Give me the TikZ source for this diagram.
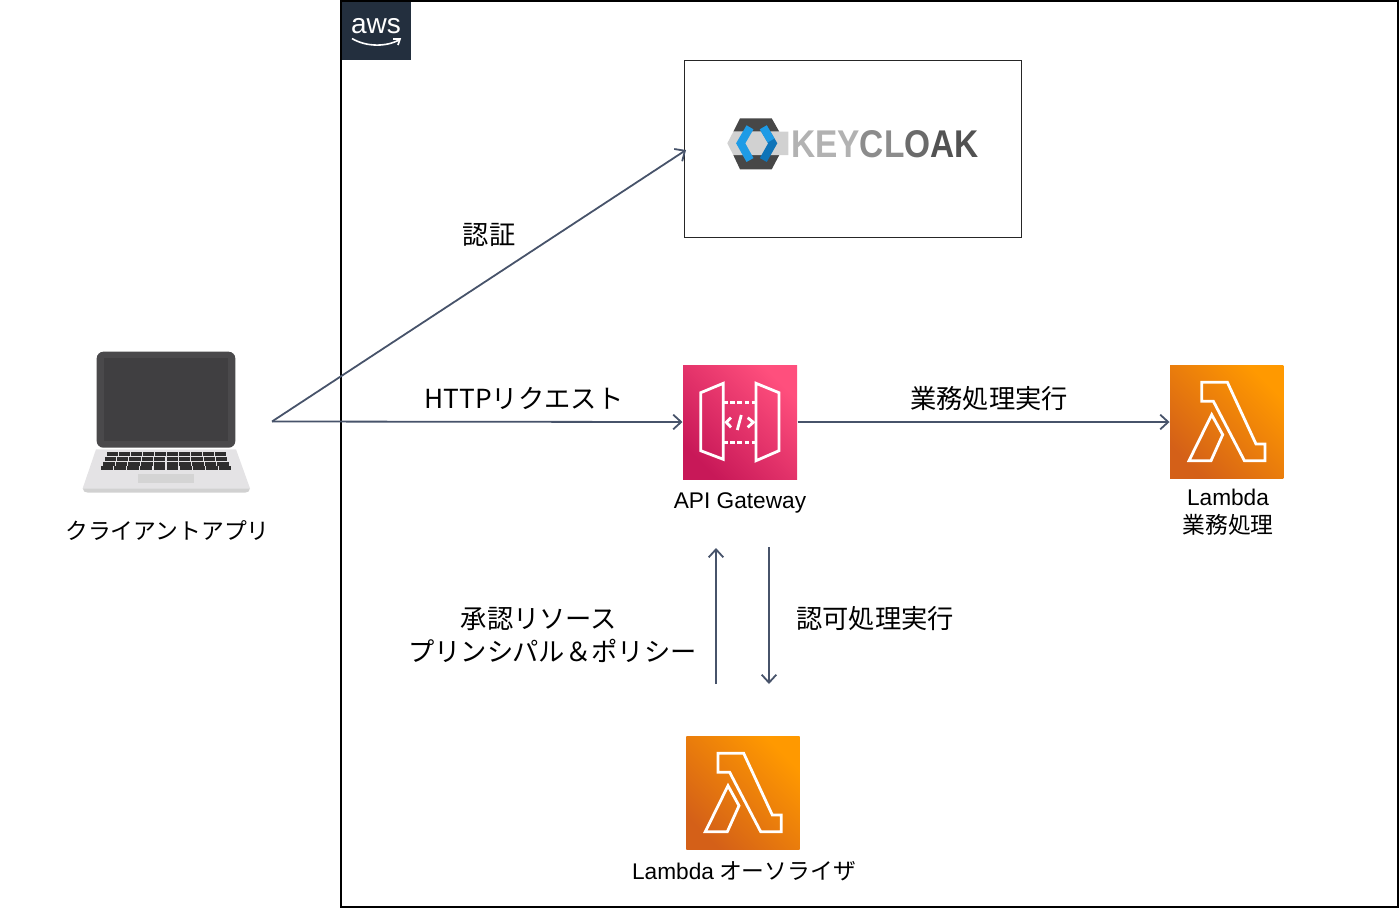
\documentclass[tikz,border=0pt]{standalone}
\usepackage{fontspec}
\setmainfont{Liberation Sans}
\newfontfamily\cjk{Noto Sans CJK JP}
\usetikzlibrary{arrows.meta}
\definecolor{arrowgray}{HTML}{47536A}
\definecolor{awsnavy}{HTML}{232F3E}
\definecolor{lapdark}{HTML}{4A494B}
\definecolor{lapinner}{HTML}{403F41}
\definecolor{lapbase}{HTML}{E4E3E5}
\definecolor{kcblue}{HTML}{1E9BE6}
\definecolor{kcdeep}{HTML}{0F74B8}
\tikzset{every picture/.style={line width=0.75pt}}
\tikzset{
	connector/.style={draw=arrowgray,line width=1.35pt,-{Straight Barb[length=6pt,width=11pt]}},
	biglabel/.style={font=\cjk\fontsize{19.7}{24}\selectfont,inner sep=0pt},
	smalllabel/.style={font=\cjk\fontsize{17.1}{21}\selectfont,inner sep=0pt},
	latinlabel/.style={font=\fontsize{17}{21}\selectfont,inner sep=0pt},
	orangetile/.style={minimum size=85pt,inner sep=0pt,shade,top color={rgb,255:red,255;green,153;blue,0},bottom color={rgb,255:red,212;green,96;blue,24},shading angle=-45},
	pinktile/.style={minimum size=85.5pt,inner sep=0pt,shade,top color={rgb,255:red,255;green,79;blue,125},bottom color={rgb,255:red,200;green,24;blue,88},shading angle=-45},
	iconline/.style={draw=white,line width=2.1pt,line join=miter},
	lambdaicon/.pic={
		\draw [iconline] (-25,-39.7) -- (0.7,-39.7) -- (29.3,22) -- (38.3,22) -- (38.3,38.7) -- (17.7,38.7) -- (-13.3,-20.7) -- (-25,-20.7) -- cycle ;
		\draw [iconline] (-15,-7.3) -- (-4,12.7) -- (-15.7,38.7) -- (-37.7,38.7) -- cycle ;
	}
}

\begin{document}
\begin{tikzpicture}[x=0.75pt,y=0.75pt,yscale=-1,xscale=1]
	\useasboundingbox (0,0) rectangle (1400,908);

	%Shape: AWS frame
	\draw [line width=1.5pt] (341,1) -- (1398,1) -- (1398,907) -- (341,907) -- cycle ;
	%Shape: AWS tag
	\fill [awsnavy] (342,2) -- (411,2) -- (411,60) -- (342,60) -- cycle ;
	\draw (376,26.5) node [font=\fontsize{21}{21}\selectfont,text=white,inner sep=0pt] (awstext) {aws};
	\draw [white,line width=1.2pt] (352,38.5) .. controls (366,47) and (386,47) .. (399,40) ;
	\draw [white,line width=1.2pt] (393,39) -- (400,39) -- (398,45) ;

	%Shape: Keycloak box
	\draw [draw=black!85,line width=0.6pt] (684.5,60) -- (1021,60) -- (1021,237) -- (684.5,237) -- cycle ;
	\coordinate (keycloak) at (686,150);
	%Shape: Keycloak logo
	\fill [black!72] (740,118.3) -- (771.7,118.3) -- (779.3,131.7) -- (733.3,131.7) -- cycle ;
	\fill [black!72] (733.3,155) -- (779.3,155) -- (771.7,169.3) -- (740,169.3) -- cycle ;
	\fill [black!18] (733.3,131.7) -- (788.3,131.7) -- (788.3,155) -- (733.3,155) -- (727.3,143.3) -- cycle ;
	\draw [kcblue,line width=6pt] (750,127.3) -- (740.7,143.3) -- (750,160) ;
	\draw [kcdeep,line width=6pt] (763.3,127.3) -- (772.7,143.3) -- (763.3,160) ;
	\draw [kcblue,line width=6pt] (763.3,127.3) -- (771,140.5) ;
	\draw (885,144) node [inner sep=0pt,font=\bfseries\fontsize{29}{29}\selectfont] (kctext) {\scalebox{0.865}[1]{\textcolor{black!30}{KEY}\textcolor{black!45}{CL}\textcolor{black!58}{O}\textcolor{black!68}{AK}}};

	%Shape: Laptop
	\fill [lapbase] (96,449.3) -- (236,449.3) -- (250,488.3) -- (82.7,488.3) -- cycle ;
	\fill [black!18] (82.7,488.3) -- (250,488.3) .. controls (250,491) and (248,492.7) .. (245,492.7) -- (88,492.7) .. controls (85,492.7) and (82.7,491) .. (82.7,488.3) -- cycle ;
	\fill [lapdark,rounded corners=5pt] (96.7,351.7) rectangle (235.3,447.7) ;
	\fill [lapinner] (104,358.3) rectangle (228,441) ;
	\fill [black!17] (137.7,474.3) rectangle (194,482.7) ;
	\foreach \r in {0,1,2,3}
		\foreach \c in {0,...,9}
			\fill [black!82] ({166+(\c-4.5)*(12+0.35*\r)-5.5-0.15*\r},{452.2+\r*4.7}) rectangle ({166+(\c-4.5)*(12+0.35*\r)+5.5+0.15*\r},{456.2+\r*4.7}) ;
	\coordinate (clientout) at (272,421.5);

	%Shape: API Gateway tile
	\node [pinktile] (apigw) at (740,422) {};
	\draw [iconline] (700.7,392.7) -- (723.3,383.3) -- (723.3,459.3) -- (700.7,450.7) -- cycle ;
	\draw [iconline] (756,383.3) -- (779,392.7) -- (779,450.7) -- (756,460.7) -- cycle ;
	\draw [iconline,dash pattern=on 3.5pt off 1.8pt] (723.3,402.3) -- (756,402.3) ;
	\draw [iconline,dash pattern=on 3.5pt off 1.8pt] (723.3,442.7) -- (756,442.7) ;
	\draw [iconline] (731,417.7) -- (726.3,422.3) -- (731,427.3) ;
	\draw [iconline] (741.3,415) -- (737.3,430) ;
	\draw [iconline] (747.7,417.7) -- (753.3,422.3) -- (747.7,427.3) ;

	%Shape: Lambda tiles
	\node [orangetile] (lambdamain) at (1226.7,422) {};
	\path (lambdamain.center) pic [yscale=-1] {lambdaicon};
	\node [orangetile] (lambdaauth) at (743,793) {};
	\path (lambdaauth.center) pic [yscale=-1] {lambdaicon};

	%Free ends of the vertical arrows
	\coordinate (authup) at (716,548);
	\coordinate (authupfrom) at (716,684);
	\coordinate (authdown) at (769,684);
	\coordinate (authdownfrom) at (769,547);

	%Straight Lines
	\draw [connector] (clientout) -- (keycloak) ;
	\draw [connector] (clientout) -- (apigw.west) ;
	\draw [connector] (apigw.east) -- (lambdamain.west) ;
	\draw [connector] (authupfrom) -- (authup) ;
	\draw [connector] (authdownfrom) -- (authdown) ;

	% Text Node
	\draw (167.5,530.5) node [smalllabel] (clientlabel) {クライアントアプリ};
	% Text Node
	\draw (489,235) node [biglabel] (authnlabel) {認証};
	% Text Node
	\draw (524,398.5) node [biglabel] (httplabel) {HTTPリクエスト};
	% Text Node
	\draw (989,398.5) node [biglabel] (execlabel) {業務処理実行};
	% Text Node
	\draw (740,502.5) node [latinlabel] (apilabel) {API Gateway};
	% Text Node
	\draw (1228,497.5) node [latinlabel] (lambdalabel) {Lambda};
	% Text Node
	\draw (1228,525) node [smalllabel] (lambdasub) {業務処理};
	% Text Node
	\draw (539,619.5) node [biglabel] (policylabela) {承認リソース};
	% Text Node
	\draw (552.5,650.5) node [biglabel] (policylabelb) {プリンシパル＆ポリシー};
	% Text Node
	\draw (875,619) node [biglabel] (authzlabel) {認可処理実行};
	% Text Node
	\draw (744,871.5) node [smalllabel] (authlabel) {{\fontsize{17}{21}\selectfont\rmfamily Lambda} オーソライザ};

\end{tikzpicture}
\end{document}
